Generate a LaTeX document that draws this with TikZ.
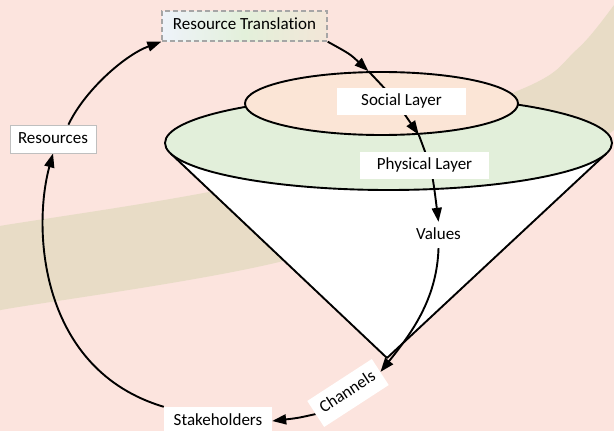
\documentclass[tikz,border=0pt]{standalone}
\usepackage{fontspec}
\setmainfont{Carlito}[Ligatures=NoCommon]
\usetikzlibrary{shapes.geometric,arrows.meta,calc}
\definecolor{bgpink}{HTML}{FCE4DE}
\definecolor{bandtan}{HTML}{E8DCC6}
\definecolor{layergreen}{HTML}{E2EFDA}
\definecolor{layerpeach}{HTML}{FBE5D6}
\definecolor{boxgray}{HTML}{A6A6A6}
\definecolor{resgray}{HTML}{BFBFBF}
\definecolor{rtleft}{HTML}{EEF3FA}
\definecolor{rtmid}{HTML}{E3F0DA}
\definecolor{rtright}{HTML}{F3E6D8}
\pgfdeclarelayer{bglayer}
\pgfdeclarelayer{arrowlayer}
\pgfsetlayers{bglayer,arrowlayer,main}
\begin{document}
\begin{tikzpicture}[x=1pt,y=-1pt,
  lbl/.style={fill=white, inner sep=0pt, font=\fontsize{17}{20}\selectfont, text height=12pt, text depth=4pt},
  flow/.style={line width=1.9pt, -{Triangle[length=14pt,width=10pt]}},
  layerell/.style={ellipse, draw, line width=1.9pt, inner sep=0pt},
]
\useasboundingbox (0,0) rectangle (614,431);
\begin{pgfonlayer}{bglayer}
  \fill[bgpink] (0,0) rectangle (614,431);
  \begin{scope}
    \clip (0,0) rectangle (614,431);
    \draw[bandtan, line width=83pt] plot[smooth] coordinates {(-40,275) (0,268) (280,219) (541,126) (606,79) (645,33) (672,-8)};
  \end{scope}
  \fill[white] (170.5,153.3) -- (387,358) -- (606.5,153.3) -- cycle;
  \draw[line width=1.9pt, line join=round] (170.5,153.3) -- (387,358) -- (606.5,153.3);
  \node[layerell, fill=layergreen, minimum width=447pt, minimum height=94pt] (phy) at (388.5,143) {};
  \node[layerell, fill=layerpeach, minimum width=273pt, minimum height=63pt] (soc) at (381.5,103.5) {};
\end{pgfonlayer}

\node[lbl, minimum width=165pt, minimum height=30pt, draw=boxgray, dash pattern=on 5pt off 3pt, line width=1.4pt, left color=rtleft, right color=rtright, middle color=rtmid] (rt) at (244.5,26) {Resource Translation};
\node[lbl, minimum width=86pt, minimum height=28pt, draw=resgray, line width=0.8pt] (res) at (53,139) {Resources};
\node[lbl, minimum width=129pt, minimum height=27pt] (sl) at (401.5,101.5) {Social Layer};
\node[lbl, minimum width=129pt, minimum height=27pt] (pl) at (424.5,165.5) {Physical Layer};
\node[lbl, minimum width=47pt, minimum height=26pt] (va) at (438.5,235) {Values};
\node[lbl, minimum width=77pt, minimum height=31pt, rotate=33] (ch) at (348,393) {Channels};
\node[lbl, minimum width=108pt, minimum height=28pt] (st) at (218,421) {Stakeholders};

\begin{pgfonlayer}{arrowlayer}
  \draw[flow] (rt.south east) .. controls (350,54) .. (soc.112);
  \draw[flow] (soc.112) .. controls (392,96) .. (soc.-40);
  \draw[flow] (soc.-40) .. controls (432,170) .. (va.north);
  \draw[flow] (va.south) .. controls (437,300) and (410,335) .. (ch.east);
  \draw[flow] (ch.west) .. controls (298,418) .. (st.east);
  \draw[flow] (st.north west) .. controls (40,370) and (32,230) .. (res.south);
  \draw[flow] (res.43) .. controls (85,90) and (125,55) .. (rt.south west);
\end{pgfonlayer}
\end{tikzpicture}
\end{document}
